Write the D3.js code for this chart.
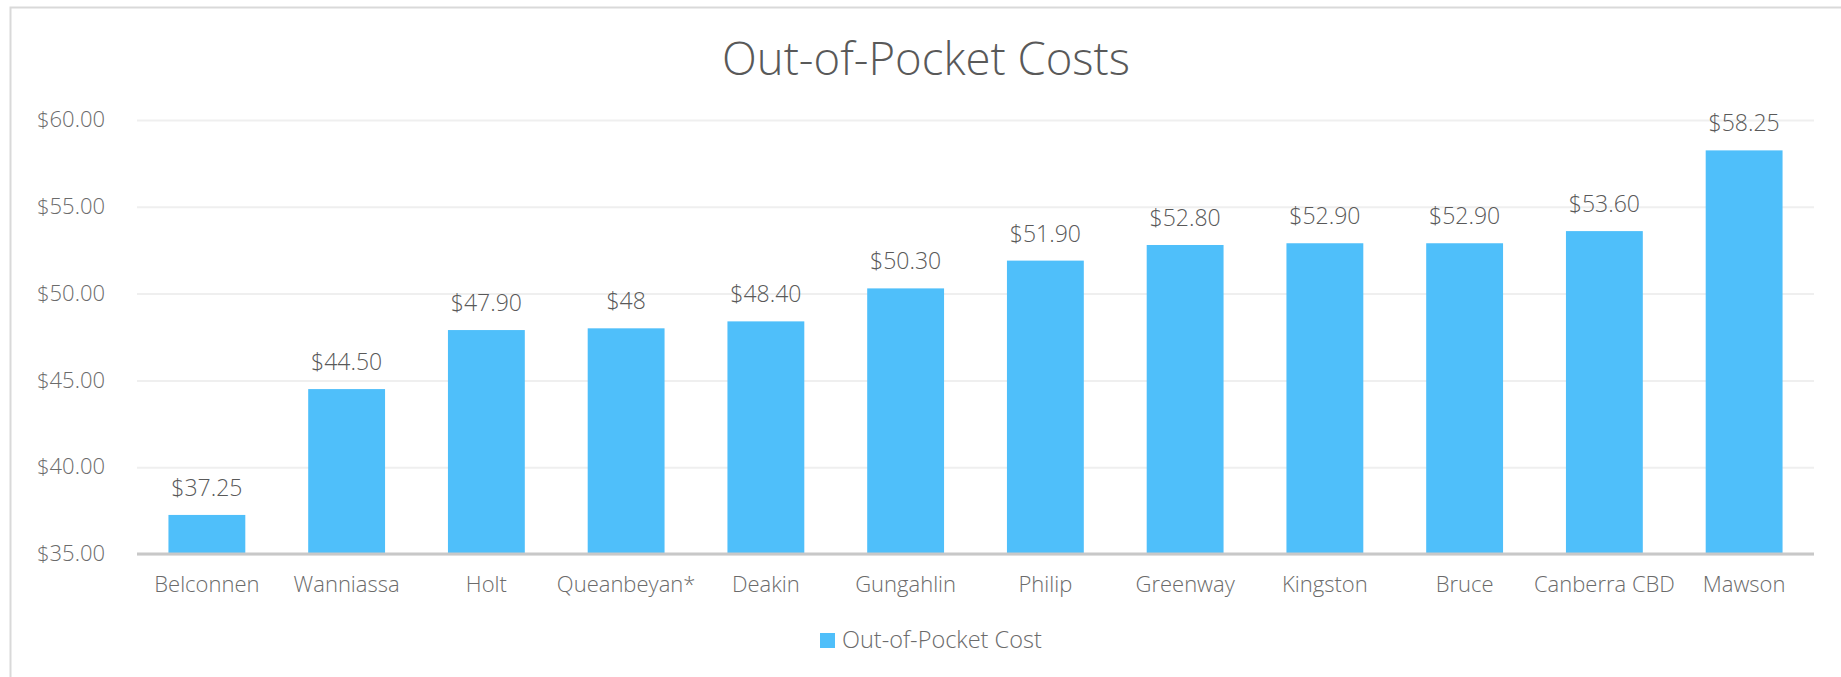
<!DOCTYPE html>
<html>
<head>
<meta charset="utf-8">
<script src="https://cdn.jsdelivr.net/npm/d3@7"></script>
<style>
  html, body { margin: 0; padding: 0; background: #fff; overflow: hidden; }
  svg { display: block; font-family: "Open Sans", sans-serif; }
</style>
</head>
<body>
<svg id="chart" width="1841" height="677"></svg>
<script>
const categories = ["Belconnen", "Wanniassa", "Holt", "Queanbeyan*", "Deakin", "Gungahlin",
  "Philip", "Greenway", "Kingston", "Bruce", "Canberra CBD", "Mawson"];
const costs = [37.25, 44.50, 47.90, 48, 48.40, 50.30, 51.90, 52.80, 52.90, 52.90, 53.60, 58.25];
const yTicks = [35, 40, 45, 50, 55, 60];
const seriesName = "Out-of-Pocket Cost";
const title = "Out-of-Pocket Costs";

const W = 1841, H = 677;
const margin = { left: 137, right: 27, top: 120, bottom: 123 };
const svg = d3.select("#chart");

// outer frame
svg.append("rect")
  .attr("x", 10.5).attr("y", 7.5)
  .attr("width", W).attr("height", H)
  .attr("fill", "none").attr("stroke", "#d9d9d9").attr("stroke-width", 2);

const x = d3.scaleBand().domain(categories)
  .range([margin.left, W - margin.right])
  .paddingInner(0.45).paddingOuter(0.225);
const y = d3.scaleLinear().domain([35, 60]).range([H - margin.bottom + 0, margin.top]);

// title
svg.append("text")
  .attr("x", 926).attr("y", 75)
  .attr("text-anchor", "middle")
  .attr("font-size", 45.5).attr("font-weight", 300)
  .attr("fill", "#595959")
  .text(title);

// gridlines + y axis labels
const yAxis = d3.axisLeft(y).tickValues(yTicks)
  .tickSize(-(W - margin.right - margin.left))
  .tickPadding(32)
  .tickFormat(d => "$" + d3.format(".2f")(d));
const gy = svg.append("g").attr("transform", `translate(${margin.left},0)`).call(yAxis);
gy.select(".domain").remove();
gy.selectAll(".tick line").attr("stroke", "#efefef").attr("stroke-width", 2);
gy.selectAll(".tick text")
  .attr("font-size", 22).attr("font-weight", 300)
  .attr("fill", "#6b6b6b").attr("font-family", "'Open Sans', sans-serif")
  .attr("dy", "0.3em");

// bars
svg.append("g").selectAll("rect").data(costs).join("rect")
  .attr("x", (d, i) => x(categories[i]))
  .attr("width", x.bandwidth())
  .attr("y", d => y(d))
  .attr("height", d => y(35) - y(d))
  .attr("fill", "#4fbffa");

// value labels
const fmt = v => Number.isInteger(v) ? "$" + v : "$" + v.toFixed(2);
svg.append("g").selectAll("text").data(costs).join("text")
  .attr("x", (d, i) => x(categories[i]) + x.bandwidth() / 2)
  .attr("y", d => y(d) - 19)
  .attr("text-anchor", "middle")
  .attr("font-size", 23).attr("font-weight", 300)
  .attr("fill", "#595959")
  .text(d => fmt(d));

// x axis
const xAxis = d3.axisBottom(x).tickSize(0).tickPadding(22);
const gx = svg.append("g").attr("transform", `translate(0,${y(35)})`).call(xAxis);
gx.select(".domain").attr("stroke", "#c8c8c8").attr("stroke-width", 3)
  .attr("d", `M${margin.left},0H${W - margin.right}`);
gx.selectAll(".tick text")
  .attr("font-size", 22).attr("font-weight", 300)
  .attr("fill", "#6b6b6b").attr("font-family", "'Open Sans', sans-serif")
  .attr("dy", "0.71em");

// legend
const lg = svg.append("g").attr("transform", "translate(820,633)");
lg.append("rect").attr("width", 15).attr("height", 15).attr("fill", "#4fbffa");
lg.append("text").attr("x", 22).attr("y", 14.5)
  .attr("font-size", 23.5).attr("font-weight", 300)
  .attr("fill", "#6b6b6b")
  .text(seriesName);
</script>
</body>
</html>
